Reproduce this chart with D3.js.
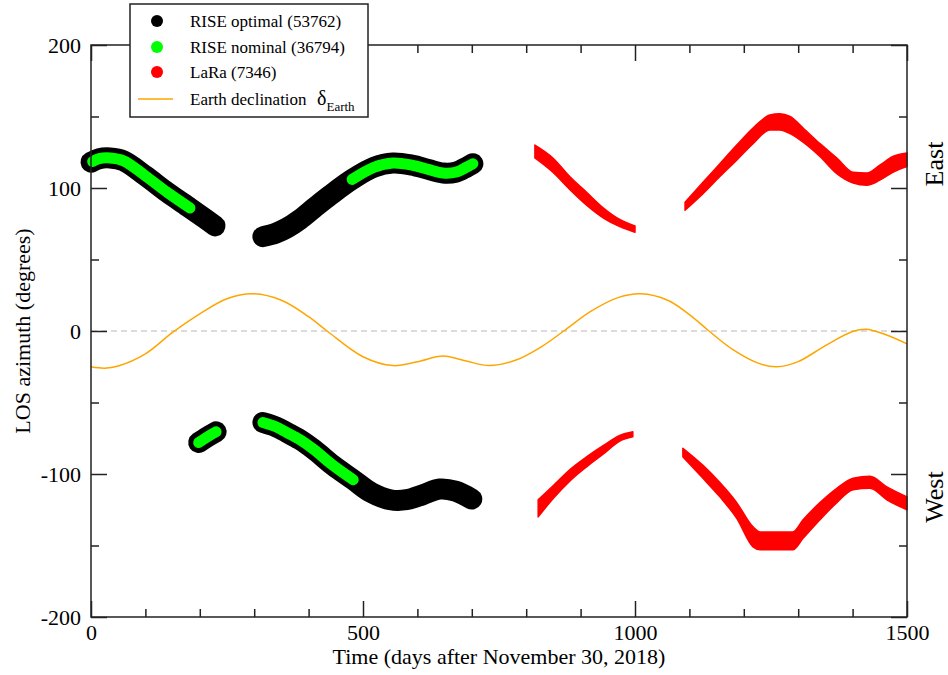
<!DOCTYPE html>
<html>
<head>
<meta charset="utf-8">
<script src="https://cdn.jsdelivr.net/npm/d3@7"></script>
<style>
  body { margin: 0; background: #fff; overflow: hidden; }
  svg { display: block; }
  svg text { font-family: "Liberation Serif", "Times New Roman", Times, "DejaVu Serif", serif; fill: #000; }
</style>
</head>
<body>
<div id="chart"></div>
<script>
// Earth declination (days, degrees)
const earthDecl = [[0,-25],[25,-26],[50,-24.5],[100,-16],[150,-1],[200,12],[250,22.5],[296,26],[350,21.5],
  [400,10],[434,0],[500,-18],[555,-24.2],[600,-21.5],[647,-17.5],[690,-21],[732,-24.2],[780,-20.5],[830,-10.5],
  [869,0],[920,14],[970,23.5],[1011,26],[1060,21.5],[1100,11.5],[1136,0],[1180,-13],[1230,-23],[1261,-25],
  [1300,-21.4],[1350,-10.2],[1400,-0.4],[1425,1.2],[1460,-2.5],[1500,-9]];

// RISE optimal (black) - track segments
const riseOptUpperA = [[0,118],[15,120.5],[35,121],[60,119],[100,108.5],[140,97],[182,86],[210,78.5],[228,73.5]];
const riseOptUpperB = [[316,66],[340,68.5],[360,72],[384,78],[410,86],[440,95],[480,106],[520,114.5],[555,117.5],
  [590,116],[620,113],[647,110.5],[670,111],[690,114.5],[702,117]];
const riseOptLowerA = [[198,-78],[214,-74],[230,-70.5]];
const riseOptLowerB = [[316,-64],[340,-67],[360,-71],[384,-76],[410,-83],[445,-94],[482,-104],[515,-113],[550,-118],
  [580,-118],[610,-114.5],[641,-110.5],[670,-112],[700,-117.5]];

// RISE nominal (green)
const riseNomUpperA = [[3,118.5],[15,120.5],[35,121],[60,119],[100,108.5],[140,97],[182,86]];
const riseNomUpperB = [[480,106],[520,114.5],[555,117.5],[590,116],[620,113],[647,110.5],[670,111],[690,114.5],[702,117]];
const riseNomLowerA = [[198,-78],[214,-74],[230,-70.5]];
const riseNomLowerB = [[316,-64],[340,-67],[360,-71],[384,-76],[410,-83],[445,-94],[482,-104]];

// LaRa (red) - [day, low, high]
const laraUpperA = [[816,121,130],[849,111,121],[880,99,108],[911,88,97],[942,79,86],[972,73,78],[1000,69,73.5]];
const laraLowerA = [[822,-130,-118],[850,-117,-108],[880,-105,-97],[911,-95,-88],[942,-86,-80],[972,-77,-73],[996,-74,-70.5]];
const laraUpperB = [[1092,84.5,90],[1125,96,104],[1156,108,117],[1187,119.5,130],[1217,131,142],[1248,140.5,151],
  [1266,140.5,152],[1285,138,150],[1309,132,142],[1340,122,131],[1371,110,121],[1401,103.5,111],[1426,102,110.5],
  [1450,105.5,116],[1474,111,122],[1500,115,124.5]];
const laraLowerB = [[1088,-88,-82],[1125,-103,-94],[1156,-116,-106],[1187,-131,-120],[1217,-151,-137],[1230,-153,-140.5],
  [1248,-153,-140.5],[1290,-153,-140.5],[1309,-145,-132],[1340,-132,-120],[1371,-120,-110],[1401,-111,-103],
  [1432,-110,-101.5],[1463,-118,-109],[1500,-125,-116]];

const xTicks = [0, 500, 1000, 1500];
const yTicks = [-200, -100, 0, 100, 200];
const legendLabels = ["RISE optimal (53762)", "RISE nominal (36794)", "LaRa (7346)", "Earth declination"];

const width = 948, height = 675;
const margin = { top: 45, right: 41, bottom: 58, left: 91 };
const innerWidth = width - margin.left - margin.right;
const innerHeight = height - margin.top - margin.bottom;

const svg = d3.select("#chart").append("svg")
    .attr("width", width)
    .attr("height", height);

const innerChart = svg.append("g")
    .attr("transform", `translate(${margin.left}, ${margin.top})`);

const xScale = d3.scaleLinear().domain([0, 1500]).range([0, innerWidth]);
const yScale = d3.scaleLinear().domain([-200, 200]).range([innerHeight, 0]);

// zero reference line
innerChart.append("line")
    .attr("x1", xScale(0)).attr("x2", xScale(1500))
    .attr("y1", yScale(0)).attr("y2", yScale(0))
    .attr("stroke", "#d0d0d0")
    .attr("stroke-width", 1.5)
    .attr("stroke-dasharray", "6,4");

const lineGen = d3.line()
    .x(d => xScale(d[0]))
    .y(d => yScale(d[1]))
    .curve(d3.curveCatmullRom);

// Earth declination
innerChart.append("path")
    .attr("d", lineGen(earthDecl))
    .attr("fill", "none")
    .attr("stroke", "#ffa500")
    .attr("stroke-width", 1.5);

// RISE optimal
innerChart.selectAll(".rise-opt")
    .data([riseOptUpperA, riseOptUpperB, riseOptLowerA, riseOptLowerB])
    .join("path")
        .attr("class", "rise-opt")
        .attr("d", lineGen)
        .attr("fill", "none")
        .attr("stroke", "#000")
        .attr("stroke-width", 21)
        .attr("stroke-linecap", "round")
        .attr("stroke-linejoin", "round");

// RISE nominal
innerChart.selectAll(".rise-nom")
    .data([riseNomUpperA, riseNomUpperB, riseNomLowerA, riseNomLowerB])
    .join("path")
        .attr("class", "rise-nom")
        .attr("d", lineGen)
        .attr("fill", "none")
        .attr("stroke", "#00ff00")
        .attr("stroke-width", 11)
        .attr("stroke-linecap", "round")
        .attr("stroke-linejoin", "round");

// LaRa bands
const areaGen = d3.area()
    .x(d => xScale(d[0]))
    .y0(d => yScale(d[1]))
    .y1(d => yScale(d[2]))
    .curve(d3.curveMonotoneX);

innerChart.selectAll(".lara")
    .data([laraUpperA, laraLowerA, laraUpperB, laraLowerB])
    .join("path")
        .attr("class", "lara")
        .attr("d", areaGen)
        .attr("fill", "#ff0000")
        .attr("stroke", "#ff0000")
        .attr("stroke-width", 1.5)
        .attr("stroke-linejoin", "round");

// frame
innerChart.append("rect")
    .attr("width", innerWidth).attr("height", innerHeight)
    .attr("fill", "none")
    .attr("stroke", "#222")
    .attr("stroke-width", 1.5);

const styleAxis = g => {
    g.attr("font-family", null).attr("font-size", null);
    g.select(".domain").remove();
    g.selectAll("line").attr("stroke", "#222").attr("stroke-width", 1.5);
    g.selectAll("text").style("font-size", "22px");
};
const noLabels = g => g.selectAll("text").remove();

const minorX = d3.range(0, 1501, 100).filter(v => v % 500 !== 0);
const minorY = d3.range(-200, 201, 50).filter(v => v % 100 !== 0);
const plainFormat = d => String(d);

// bottom axis
innerChart.append("g").attr("transform", `translate(0, ${innerHeight})`)
    .call(d3.axisBottom(xScale).tickValues(xTicks).tickSize(-16).tickPadding(7).tickFormat(plainFormat))
    .call(styleAxis);
innerChart.append("g").attr("transform", `translate(0, ${innerHeight})`)
    .call(d3.axisBottom(xScale).tickValues(minorX).tickSize(-8))
    .call(styleAxis).call(noLabels);
// top axis
innerChart.append("g")
    .call(d3.axisTop(xScale).tickValues(xTicks).tickSize(-16))
    .call(styleAxis).call(noLabels);
innerChart.append("g")
    .call(d3.axisTop(xScale).tickValues(minorX).tickSize(-8))
    .call(styleAxis).call(noLabels);
// left axis
innerChart.append("g")
    .call(d3.axisLeft(yScale).tickValues(yTicks).tickSize(-16).tickPadding(10).tickFormat(plainFormat))
    .call(styleAxis);
innerChart.append("g")
    .call(d3.axisLeft(yScale).tickValues(minorY).tickSize(-8))
    .call(styleAxis).call(noLabels);
// right axis
innerChart.append("g").attr("transform", `translate(${innerWidth}, 0)`)
    .call(d3.axisRight(yScale).tickValues(yTicks).tickSize(-16))
    .call(styleAxis).call(noLabels);
innerChart.append("g").attr("transform", `translate(${innerWidth}, 0)`)
    .call(d3.axisRight(yScale).tickValues(minorY).tickSize(-8))
    .call(styleAxis).call(noLabels);

// axis titles
svg.append("text")
    .attr("x", margin.left + innerWidth / 2)
    .attr("y", 664)
    .attr("text-anchor", "middle")
    .style("font-size", "22px")
    .text("Time (days after November 30, 2018)");

svg.append("text")
    .attr("transform", `translate(30, ${margin.top + innerHeight / 2}) rotate(-90)`)
    .attr("text-anchor", "middle")
    .style("font-size", "22px")
    .text("LOS azimuth (degrees)");

svg.append("text")
    .attr("transform", `translate(943, 164) rotate(-90)`)
    .attr("text-anchor", "middle")
    .style("font-size", "26px")
    .text("East");

svg.append("text")
    .attr("transform", `translate(943, 497) rotate(-90)`)
    .attr("text-anchor", "middle")
    .style("font-size", "26px")
    .text("West");

// legend
const legend = svg.append("g").attr("transform", "translate(130, 4)");
legend.append("rect")
    .attr("width", 238).attr("height", 113)
    .attr("fill", "#fff")
    .attr("stroke", "#222")
    .attr("stroke-width", 1.5);

const legendColors = ["#000", "#00ff00", "#ff0000", "#ffa500"];
const rowY = [17, 43, 68, 95];

legendLabels.forEach((label, i) => {
    if (i < 3) {
        legend.append("circle")
            .attr("cx", 27).attr("cy", rowY[i]).attr("r", 6)
            .attr("fill", legendColors[i]);
    } else {
        legend.append("line")
            .attr("x1", 8).attr("x2", 43)
            .attr("y1", rowY[i]).attr("y2", rowY[i])
            .attr("stroke", legendColors[i]).attr("stroke-width", 1.5);
    }
    legend.append("text")
        .attr("x", 60).attr("y", rowY[i] + 6)
        .style("font-size", "17px")
        .text(label);
});

const delta = legend.append("text")
    .attr("x", 187).attr("y", rowY[3] + 6)
    .style("font-size", "20px");
delta.append("tspan").text("δ");
delta.append("tspan").attr("dy", 6).style("font-size", "13px").text("Earth");
</script>
</body>
</html>
